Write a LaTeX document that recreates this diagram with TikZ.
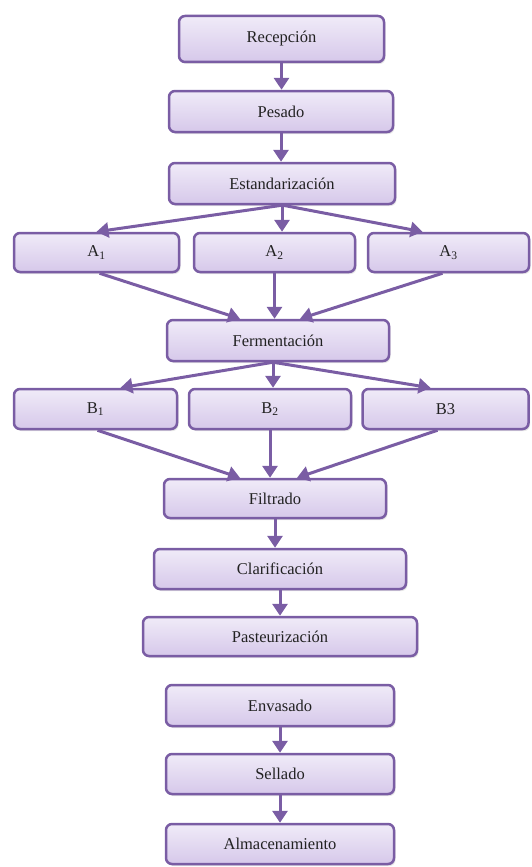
\documentclass[tikz,border=0pt]{standalone}
\usepackage{fontspec}
\setmainfont{Liberation Serif}
\newfontfamily\boxfont{Liberation Serif}
\usetikzlibrary{arrows.meta,shadows,calc}
\definecolor{bord}{HTML}{7A5DA4}
\definecolor{ftop}{HTML}{F0EBF8}
\definecolor{fbot}{HTML}{D6C8EA}
\definecolor{txt}{HTML}{222222}
\tikzset{
  box/.style={draw=bord, line width=2.5pt, rounded corners=6pt, top color=ftop, bottom color=fbot,
    font=\boxfont\fontsize{16.5}{18}\selectfont, text=txt, inner sep=0pt,
    drop shadow={opacity=0.2, shadow xshift=1.5pt, shadow yshift=-2pt}},
  arr/.style={draw=bord, line width=3pt, -{Triangle[width=15pt,length=12pt]}}
}
\begin{document}
\begin{tikzpicture}[x=1pt,y=-1pt]
\useasboundingbox (0,0) rectangle (532,867);
\node[box, minimum width=205, minimum height=46] (rec) at (281.5,39) {Recepción};
\node[box, minimum width=224, minimum height=41] (pes) at (281,111.5) {Pesado};
\node[box, minimum width=226, minimum height=41] (est) at (282,183.5) {Estandarización};
\node[box, minimum width=165, minimum height=39] (a1) at (96.5,252.5) {A\textsubscript{1}};
\node[box, minimum width=161, minimum height=39] (a2) at (274.5,252.5) {A\textsubscript{2}};
\node[box, minimum width=161, minimum height=39] (a3) at (448.5,252.5) {A\textsubscript{3}};
\node[box, minimum width=222, minimum height=41] (fer) at (278,340.5) {Fermentación};
\node[box, minimum width=163, minimum height=40] (b1) at (95.5,409) {B\textsubscript{1}};
\node[box, minimum width=162, minimum height=40] (b2) at (270,409) {B\textsubscript{2}};
\node[box, minimum width=166, minimum height=40] (b3) at (445.5,409) {B3};
\node[box, minimum width=222, minimum height=39] (fil) at (275,498.5) {Filtrado};
\node[box, minimum width=252, minimum height=40] (cla) at (280,569) {Clarificación};
\node[box, minimum width=274, minimum height=39] (pas) at (280,636.5) {Pasteurización};
\node[box, minimum width=228, minimum height=41] (env) at (280,705.5) {Envasado};
\node[box, minimum width=228, minimum height=40] (sel) at (280,774) {Sellado};
\node[box, minimum width=228, minimum height=40] (alm) at (280,844) {Almacenamiento};

\draw[arr] (rec.south) -- (rec.south |- pes.north);
\draw[arr] (pes.south) -- (pes.south |- est.north);
\draw[arr] (est.south) -- (a1.north);
\draw[arr] (est.south) -- (est.south |- a2.north);
\draw[arr] ($(est.south)+(1,0)$) -- ($(a3.north)+(-26,0)$);
\draw[arr] ($(a1.south)+(3,0)$) -- ($(fer.north)+(-38,0)$);
\draw[arr] (a2.south) -- (a2.south |- fer.north);
\draw[arr] ($(a3.south)+(-6,0)$) -- ($(fer.north)+(22,0)$);
\draw[arr] ($(fer.south)+(-5,0)$) -- ($(b1.north)+(25,0)$);
\draw[arr] ($(fer.south)+(-5,0)$) -- ($(b2.north)+(3,0)$);
\draw[arr] ($(fer.south)+(-5,0)$) -- ($(b3.north)+(-15,0)$);
\draw[arr] ($(b1.south)+(2,0)$) -- ($(fil.north)+(-35,0)$);
\draw[arr] (b2.south) -- (b2.south |- fil.north);
\draw[arr] ($(b3.south)+(-8,0)$) -- ($(fil.north)+(22,0)$);
\draw[arr] (fil.south) -- (fil.south |- cla.north);
\draw[arr] (cla.south) -- (cla.south |- pas.north);
\draw[arr] (env.south) -- (sel.north);
\draw[arr] (sel.south) -- (alm.north);
\end{tikzpicture}
\end{document}
